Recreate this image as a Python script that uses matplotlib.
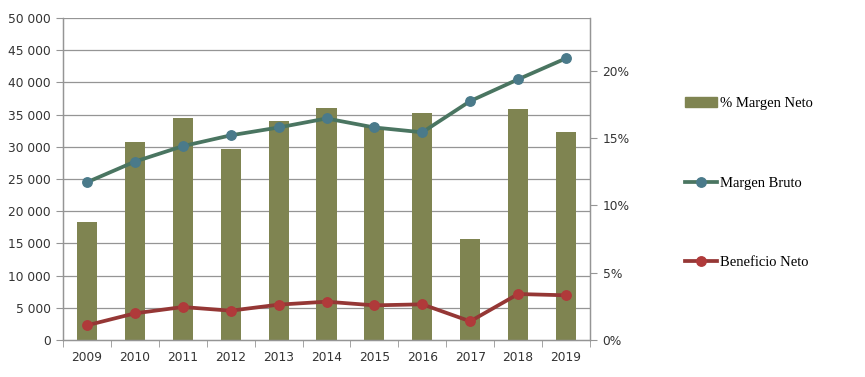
import matplotlib
matplotlib.use("Agg")
import matplotlib.pyplot as plt
from matplotlib.patches import Patch
from matplotlib.lines import Line2D
from matplotlib.ticker import FuncFormatter
import numpy as np

years = ["2009", "2010", "2011", "2012", "2013", "2014", "2015", "2016",
         "2017", "2018", "2019"]
margen_neto_pct = [8.8, 14.7, 16.5, 14.2, 16.3, 17.25, 15.8, 16.9, 7.5, 17.2, 15.5]
margen_bruto = [24490, 27700, 30100, 31780, 33000, 34400, 33000, 32250,
                37100, 40480, 43740]
beneficio_neto = [2280, 4140, 5120, 4550, 5490, 5950, 5380, 5540, 2900,
                  7140, 6940]
left_ticks = [0, 5000, 10000, 15000, 20000, 25000, 30000, 35000, 40000,
              45000, 50000]
right_ticks = [0, 5, 10, 15, 20]

BAR = "#7f8451"
GREEN = "#4a7561"
GREEN_MK = "#4a7a8a"
RED = "#953735"
RED_MK = "#b03a3a"
GRID = "#959595"

fig = plt.figure(figsize=(8.65, 3.77), dpi=100)
ax_bar = fig.add_axes([63 / 865, 37 / 377, 527 / 865, 322 / 377])
ax_line = ax_bar.twinx()

x = np.arange(len(years))

# bars on the percent axis (shown on the right)
ax_bar.bar(x, margen_neto_pct, width=0.42, color=BAR, zorder=2)
ax_bar.set_ylim(0, 23.94)
ax_bar.set_xlim(-0.5, len(years) - 0.5)
for t in left_ticks[1:]:
    ax_bar.axhline(t / 50000 * 23.94, color=GRID, lw=0.9, zorder=1)
ax_bar.yaxis.tick_right()
ax_bar.set_yticks(right_ticks)
ax_bar.yaxis.set_major_formatter(FuncFormatter(lambda v, p: f"{v:.0f}%"))

# lines on the value axis (shown on the left)
ax_line.plot(x, margen_bruto, color=GREEN, lw=2.7, marker="o", ms=6.8,
             mfc=GREEN_MK, mec=GREEN_MK, zorder=3)
ax_line.plot(x, beneficio_neto, color=RED, lw=2.7, marker="o", ms=6.8,
             mfc=RED_MK, mec=RED_MK, zorder=3)
ax_line.set_ylim(0, 50000)
ax_line.yaxis.tick_left()
ax_line.set_yticks(left_ticks)
ax_line.yaxis.set_major_formatter(
    FuncFormatter(lambda v, p: f"{int(v):,}".replace(",", " ")))

ax_bar.set_xticks(x)
ax_bar.set_xticklabels(years)
ax_bar.set_xticks(np.arange(-0.5, len(years)), minor=True)
ax_bar.tick_params(axis="x", which="major", length=0, pad=8, labelsize=8.8,
                   colors="#333333")
ax_bar.tick_params(axis="x", which="minor", length=5, color=GRID)
ax_bar.tick_params(axis="y", length=5, color=GRID, labelsize=8.8,
                   labelcolor="#333333", pad=4)
ax_line.tick_params(axis="y", length=5, color=GRID, labelsize=8.8,
                    labelcolor="#333333", pad=4)

for a in (ax_bar, ax_line):
    a.spines["top"].set_visible(False)
    for s in ("left", "right", "bottom"):
        a.spines[s].set_color(GRID)
        a.spines[s].set_linewidth(0.9)

handles = [
    Patch(color=BAR, label="% Margen Neto"),
    Line2D([], [], color=GREEN, lw=2.7, marker="o", ms=6.8, mfc=GREEN_MK,
           mec=GREEN_MK, label="Margen Bruto"),
    Line2D([], [], color=RED, lw=2.7, marker="o", ms=6.8, mfc=RED_MK,
           mec=RED_MK, label="Beneficio Neto"),
]
fig.legend(handles=handles, loc="upper left", bbox_to_anchor=(672 / 865, 1 - 84 / 377),
           frameon=False, prop={"family": "Liberation Serif", "size": 10.5},
           labelspacing=4.55, handlelength=2.2, handletextpad=0.2)

fig.savefig("out.png", dpi=100)
